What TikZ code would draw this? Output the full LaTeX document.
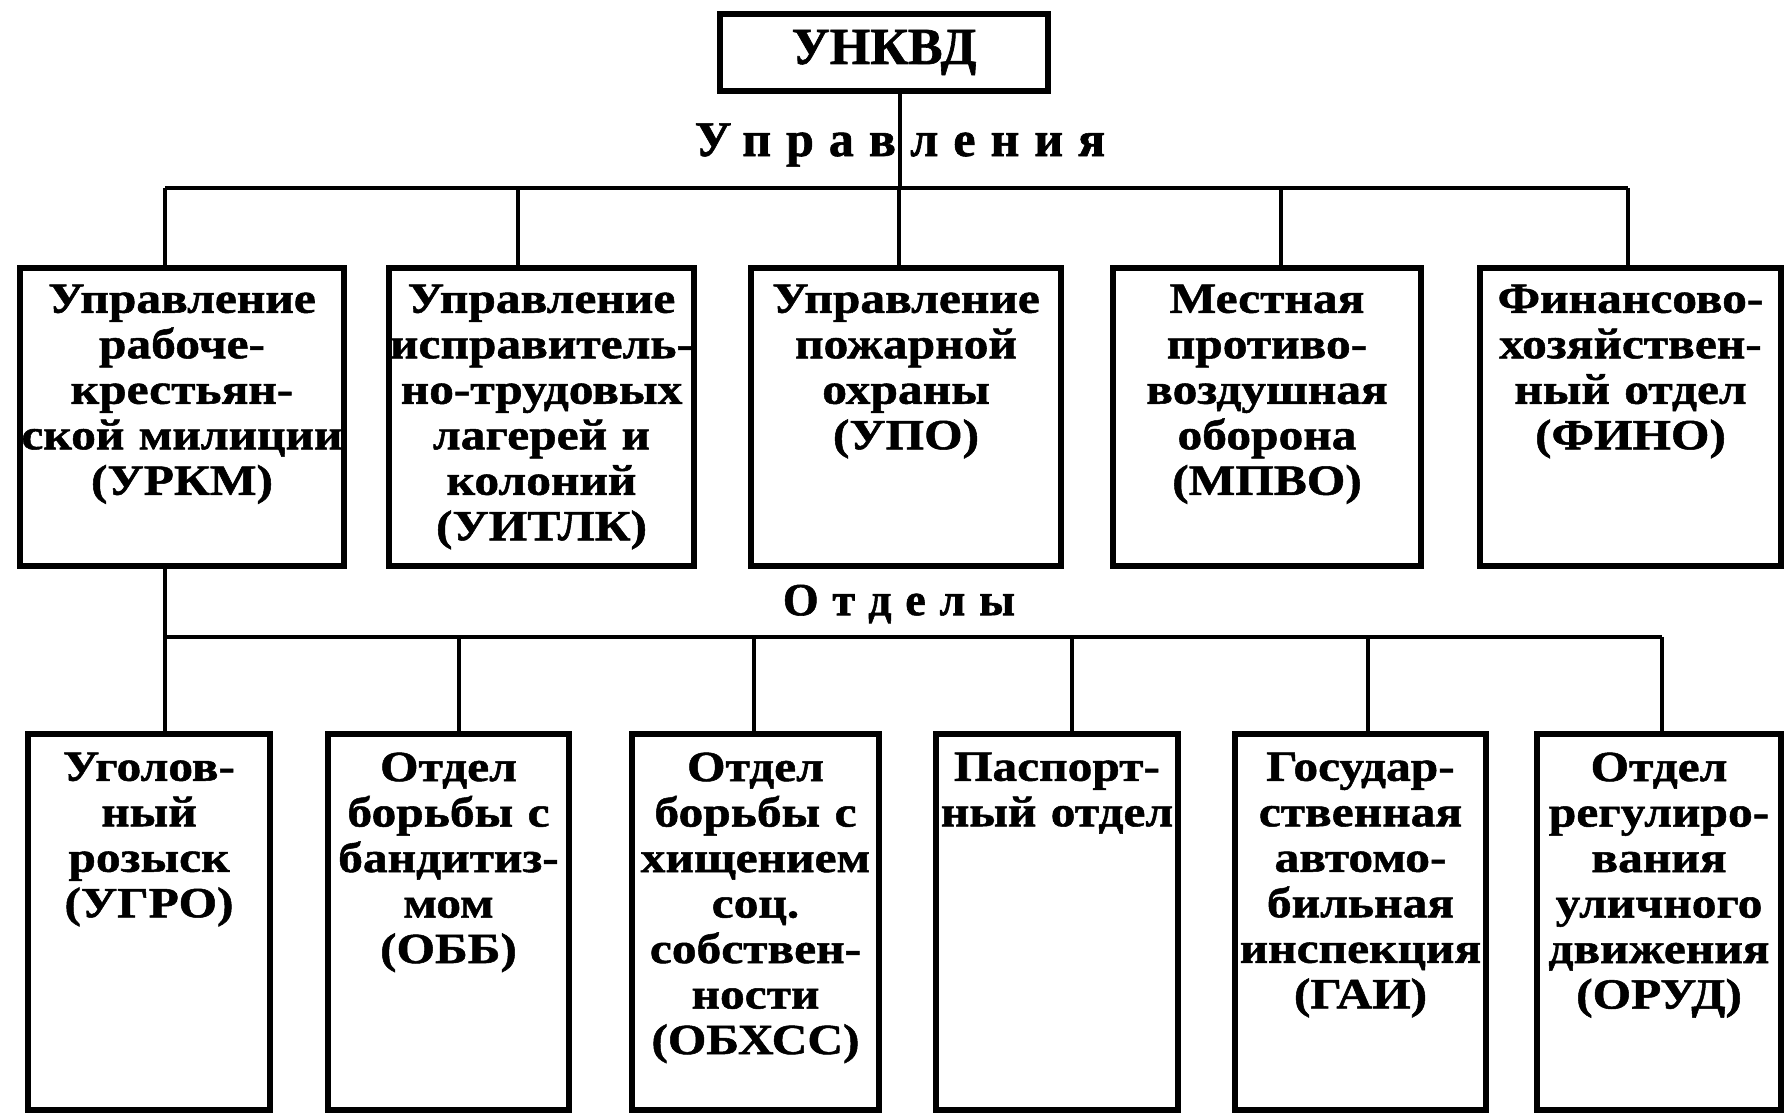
\documentclass[tikz,border=0pt]{standalone}
\usepackage{fontspec}
\setmainfont{Liberation Serif}
\newfontfamily\boxfont[FakeStretch=1.15,FakeBold=1.2]{Liberation Serif}
\newfontfamily\spacedfont[LetterSpace=30,FakeBold=1.2]{Liberation Serif}
\newfontfamily\headfont[FakeBold=1.2]{Liberation Serif}
\usetikzlibrary{fit}
\begin{document}
\begin{tikzpicture}[x=0.5pt,y=-0.5pt,
  box/.style={draw,line width=2.8pt,inner sep=0pt},
  lbl/.style={inner sep=0pt,anchor=north,align=center,text width=180pt,
    font=\boxfont\bfseries\fontsize{21.5}{22.75}\selectfont},
  head/.style={inner sep=0pt,font=\spacedfont\bfseries\fontsize{#1}{#1}\selectfont},
  conn/.style={line width=2.4pt}]
\useasboundingbox (0,0) rectangle (1785,1117);
% top box
\node[box,fit={(720,14) (1048,91)}] (unkvd) {};
\node[inner sep=0pt,font=\headfont\bfseries\fontsize{26}{28}\selectfont] (unkvdt) at (unkvd.center) {УНКВД};
\node[head=25] (upr) at (900,145) {Управления};
% upper boxes
\node[box,fit={(20,268) (344,566)}] (u1) {};
\node[box,fit={(389,268) (694,566)}] (u2) {};
\node[box,fit={(751,268) (1061,566)}] (u3) {};
\node[box,fit={(1113,268) (1421,566)}] (u4) {};
\node[box,fit={(1480,268) (1781,566)}] (u5) {};
\node[lbl] (u1t) at ([yshift=-9.5pt]u1.north) {Управление\\рабоче-\\крестьян-\\ской милиции\\(УРКМ)};
\node[lbl] (u2t) at ([yshift=-9.5pt]u2.north) {Управление\\исправитель-\\но-трудовых\\лагерей и\\колоний\\(УИТЛК)};
\node[lbl] (u3t) at ([yshift=-9.5pt]u3.north) {Управление\\пожарной\\охраны\\(УПО)};
\node[lbl] (u4t) at ([yshift=-9.5pt]u4.north) {Местная\\противо-\\воздушная\\оборона\\(МПВО)};
\node[lbl] (u5t) at ([yshift=-9.5pt]u5.north) {Финансово-\\хозяйствен-\\ный отдел\\(ФИНО)};
% connectors upper
\coordinate (h0) at (900,188);
\coordinate (h1) at (165,188);
\coordinate (h2) at (518,188);
\coordinate (h3) at (899,188);
\coordinate (h4) at (1281,188);
\coordinate (h5) at (1628,188);
\draw[conn] (unkvd.south -| h0) -- (h0);
\draw[conn] (h1) -- (h5);
\foreach \i in {1,...,5} {\draw[conn] (h\i) -- (h\i |- u\i.north);}
% label Otdely
\node[head=23] (otd) at (899,604) {Отделы};
% lower boxes
\node[box,fit={(28,734) (270,1110)}] (b1) {};
\node[box,fit={(328,734) (569,1110)}] (b2) {};
\node[box,fit={(632,734) (879,1110)}] (b3) {};
\node[box,fit={(936,734) (1178,1110)}] (b4) {};
\node[box,fit={(1235,734) (1486,1110)}] (b5) {};
\node[box,fit={(1537,734) (1781,1110)}] (b6) {};
\node[lbl] (b1t) at ([yshift=-10.5pt]b1.north) {Уголов-\\ный\\розыск\\(УГРО)};
\node[lbl] (b2t) at ([yshift=-10.5pt]b2.north) {Отдел\\борьбы с\\бандитиз-\\мом\\(ОББ)};
\node[lbl] (b3t) at ([yshift=-10.5pt]b3.north) {Отдел\\борьбы с\\хищением\\соц.\\собствен-\\ности\\(ОБХСС)};
\node[lbl] (b4t) at ([yshift=-10.5pt]b4.north) {Паспорт-\\ный отдел};
\node[lbl] (b5t) at ([yshift=-10.5pt]b5.north) {Государ-\\ственная\\автомо-\\бильная\\инспекция\\(ГАИ)};
\node[lbl] (b6t) at ([yshift=-10.5pt]b6.north) {Отдел\\регулиро-\\вания\\уличного\\движения\\(ОРУД)};
% connectors lower
\coordinate (g1) at (165,637);
\coordinate (g2) at (459,637);
\coordinate (g3) at (754,637);
\coordinate (g4) at (1072,637);
\coordinate (g5) at (1368,637);
\coordinate (g6) at (1662,637);
\draw[conn] (g1 |- u1.south) -- (g1);
\draw[conn] (g1) -- (g6);
\foreach \i in {1,...,6} {\draw[conn] (g\i) -- (g\i |- b\i.north);}
\end{tikzpicture}
\end{document}
